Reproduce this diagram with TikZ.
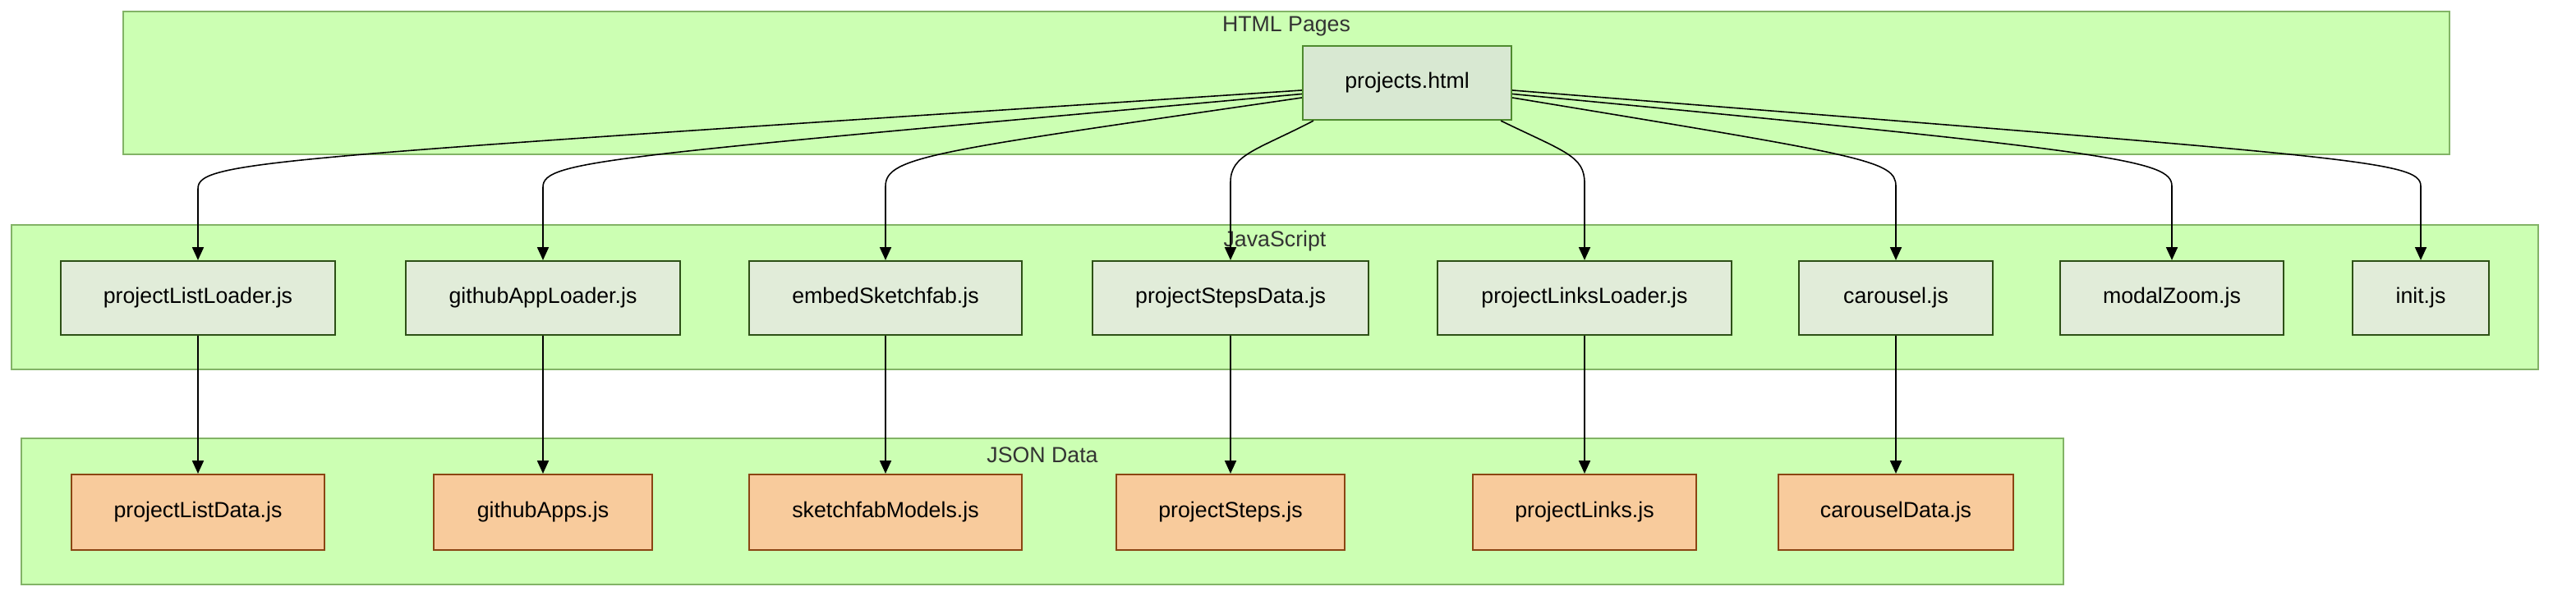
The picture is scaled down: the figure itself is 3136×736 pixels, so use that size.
\documentclass[tikz,border=0pt]{standalone}
\usepackage{fontspec}
\setmainfont{Liberation Sans}
\usetikzlibrary{arrows.meta}

\definecolor{grpfill}{HTML}{CCFFB3}
\definecolor{grpline}{HTML}{82B366}
\definecolor{htmlfill}{HTML}{D8E8D2}
\definecolor{htmlline}{HTML}{4E8A2E}
\definecolor{jsfill}{HTML}{E1ECD9}
\definecolor{jsline}{HTML}{2D5016}
\definecolor{datafill}{HTML}{F8CB9C}
\definecolor{dataline}{HTML}{8B4513}
\definecolor{grptext}{HTML}{333333}

\tikzset{
  group/.style={fill=grpfill, draw=grpline, line width=0.6pt},
  grouplabel/.style={text=grptext, inner sep=0pt},
  htmlbox/.style={fill=htmlfill, draw=htmlline, line width=0.6pt, inner sep=0pt, minimum height=0.9cm},
  jsbox/.style={fill=jsfill, draw=jsline, line width=0.6pt, inner sep=0pt, minimum height=0.9cm},
  databox/.style={fill=datafill, draw=dataline, line width=0.6pt, inner sep=0pt, minimum height=0.92cm},
  arr/.style={-{Triangle[length=4.5pt,width=4pt]}, line width=0.45pt}
}

\begin{document}
\begin{tikzpicture}[x=0.01cm, y=-0.01cm, font=\fontsize{7.6}{9}\selectfont]
      \useasboundingbox (0,0) rectangle (3136,736);

      % groups
      \draw[group] (150,14) rectangle (2982,188);
      \node[grouplabel] (lhtml) at (1566,32) {HTML Pages};
      \draw[group] (14,274) rectangle (3090,450);
      \node[grouplabel] (ljs) at (1552,294) {JavaScript};
      \draw[group] (26,534) rectangle (2512,712);
      \node[grouplabel] (ljson) at (1269,554) {JSON Data};

      \node[htmlbox, minimum width=2.54cm] (html) at (1713,101) {projects.html};

      \node[jsbox, minimum width=3.34cm] (pll) at (241,363) {projectListLoader.js};
      \node[jsbox, minimum width=3.34cm] (gal) at (661,363) {githubAppLoader.js};
      \node[jsbox, minimum width=3.32cm] (esf) at (1078,363) {embedSketchfab.js};
      \node[jsbox, minimum width=3.36cm] (psd) at (1498,363) {projectStepsData.js};
      \node[jsbox, minimum width=3.58cm] (plk) at (1929,363) {projectLinksLoader.js};
      \node[jsbox, minimum width=2.36cm] (car) at (2308,363) {carousel.js};
      \node[jsbox, minimum width=2.72cm] (mdz) at (2644,363) {modalZoom.js};
      \node[jsbox, minimum width=1.66cm] (ini) at (2947,363) {init.js};

      \node[databox, minimum width=3.08cm] (pld) at (241,624) {projectListData.js};
      \node[databox, minimum width=2.66cm] (gha) at (661,624) {githubApps.js};
      \node[databox, minimum width=3.32cm] (skm) at (1078,624) {sketchfabModels.js};
      \node[databox, minimum width=2.78cm] (pst) at (1498,624) {projectSteps.js};
      \node[databox, minimum width=2.72cm] (plks) at (1929,624) {projectLinks.js};
      \node[databox, minimum width=2.86cm] (crd) at (2308,624) {carouselData.js};

      % html -> js
      \draw[arr] (html.184) .. controls (330,193) and (pll.north |- 0,195) .. (pll.north |- 0,230) -- (pll);
      \draw[arr] (html.186) .. controls (740,191) and (gal.north |- 0,195) .. (gal.north |- 0,228) -- (gal);
      \draw[arr] (html.188) .. controls (1140,184) and (esf.north |- 0,190) .. (esf.north |- 0,227) -- (esf);
      \draw[arr] (html.202) .. controls (1530,183) and (psd.north |- 0,188) .. (psd.north |- 0,222) -- (psd);
      \draw[arr] (html.338) .. controls (1905,185) and (plk.north |- 0,190) .. (plk.north |- 0,223) -- (plk);
      \draw[arr] (html.352) .. controls (2270,190) and (car.north |- 0,195) .. (car.north |- 0,227) -- (car);
      \draw[arr] (html.354) .. controls (2580,185) and (mdz.north |- 0,195) .. (mdz.north |- 0,227) -- (mdz);
      \draw[arr] (html.356) .. controls (2870,192) and (ini.north |- 0,195) .. (ini.north |- 0,227) -- (ini);

      % js -> data
      \draw[arr] (pll) -- (pld);
      \draw[arr] (gal) -- (gha);
      \draw[arr] (esf) -- (skm);
      \draw[arr] (psd) -- (pst);
      \draw[arr] (plk) -- (plks);
      \draw[arr] (car) -- (crd);

    \end{tikzpicture}
\end{document}
